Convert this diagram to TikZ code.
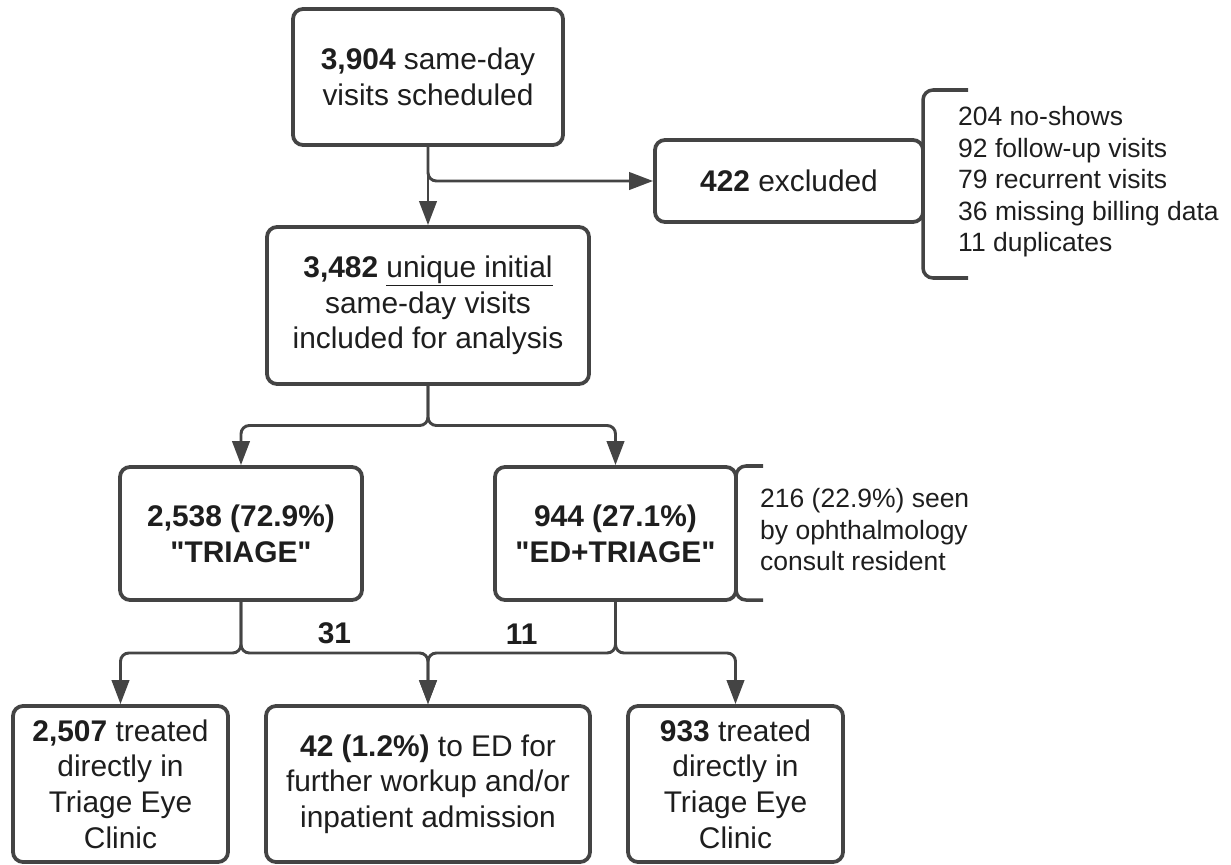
\documentclass[tikz,border=0pt]{standalone}
\usepackage{fontspec}
\setmainfont{Liberation Sans}
\usetikzlibrary{arrows.meta, positioning, calc}
\definecolor{linegray}{RGB}{68,68,68}
\definecolor{textgray}{RGB}{30,30,30}
\newcommand{\boxfont}{\fontsize{25.5}{30.5}\selectfont}
\newcommand{\notefont}{\fontsize{22.6}{26.9}\selectfont}

\begin{document}
\begin{tikzpicture}[
    x=0.03cm, y=-0.03cm,
    font=\boxfont,
    text=textgray,
    box/.style={
        draw=linegray,
        line width=3.2pt,
        rounded corners=0.3cm,
        fill=white,
        align=center,
        inner sep=0pt
    },
    wire/.style={
        draw=linegray,
        line width=2.5pt,
        rounded corners=0.25cm
    },
    arrow/.style={
        wire,
        -{Triangle[length=0.72cm, width=0.52cm]}
    },
    note/.style={
        font=\notefont,
        align=left,
        anchor=west,
        inner sep=0pt
    },
    bracket/.style={
        draw=linegray,
        line width=3pt,
        rounded corners=0.3cm
    }
]
\useasboundingbox (0,0) rectangle (1231,864);

% Scheduled visits
\node[box, minimum width=8.1cm, minimum height=4.08cm] (sched) at (428,77) {\textbf{3,904} same-day\\visits scheduled};

% Excluded visits
\node[box, minimum width=8.04cm, minimum height=2.46cm] (excl) at (789,181) {\textbf{422} excluded};
\draw[bracket] (968,90) -- (923,90) -- (923,278) -- (968,278);
\node[note] (exlist) at (958,182) {204 no-shows\\92 follow-up visits\\79 recurrent visits\\36 missing billing data\\11 duplicates};

% Included visits
\node[box, minimum width=9.66cm, minimum height=4.71cm] (incl) at (428,305.5) {\textbf{3,482} \underline{unique initial}\\same-day visits\\included for analysis};

% Connections sched -> incl / excl
\draw[arrow] (sched.south) -- (incl.north);
\draw[arrow] (sched.south) |- (excl.west);

% Triage groups
\node[box, minimum width=7.26cm, minimum height=3.99cm] (triage) at (241,533.5) {\textbf{2,538 (72.9\%)}\\\textbf{\textquotedbl TRIAGE\textquotedbl}};
\node[box, minimum width=7.23cm, minimum height=3.99cm] (edtri) at (615.5,533.5) {\textbf{944 (27.1\%)}\\\textbf{\textquotedbl ED+TRIAGE\textquotedbl}};
\draw[bracket] (763,466) -- (736,466) -- (736,600) -- (763,600);
\node[note] (consult) at (760,530) {216 (22.9\%) seen\\by ophthalmology\\consult resident};

% Connections incl -> groups
\coordinate (split) at ($(incl.south)!0.5!(incl.south |- triage.north)$);
\draw[arrow] (incl.south) -- (split) -| (triage.north);
\draw[arrow] (incl.south) -- (split) -| (edtri.north);

% Outcomes
\node[box, minimum width=6.45cm, minimum height=4.68cm] (outl) at (120.5,784) {\textbf{2,507} treated\\directly in\\Triage Eye\\Clinic};
\node[box, minimum width=9.72cm, minimum height=4.68cm] (outm) at (428,784) {\textbf{42 (1.2\%)} to ED for\\further workup and/or\\inpatient admission};
\node[box, minimum width=6.45cm, minimum height=4.68cm] (outr) at (735.5,784) {\textbf{933} treated\\directly in\\Triage Eye\\Clinic};

% Connections groups -> outcomes
\coordinate (tsplit) at ($(triage.south)!0.5!(triage.south |- outl.north)$);
\coordinate (esplit) at ($(edtri.south)!0.5!(edtri.south |- outr.north)$);
\draw[arrow] (triage.south) -- (tsplit) -| (outl.north);
\draw[arrow] (triage.south) -- (tsplit) -| node[pos=0.25, above=3pt] {\textbf{31}} (outm.north);
\draw[arrow] (edtri.south) -- (esplit) -| node[pos=0.25, above=3pt] {\textbf{11}} (outm.north);
\draw[arrow] (edtri.south) -- (esplit) -| (outr.north);

\end{tikzpicture}
\end{document}
